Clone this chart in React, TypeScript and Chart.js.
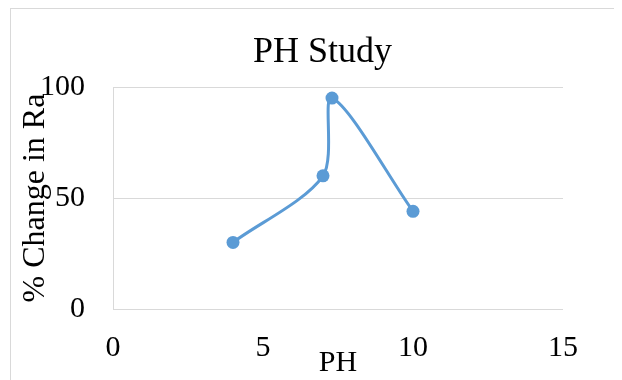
import React, { useEffect, useRef } from "react";
import { Chart, registerables } from "chart.js";

Chart.register(...registerables);

const chartTitle = "PH Study";
const xAxisTitle = "PH";
const yAxisTitle = "% Change in Ra";
const phValues = [4, 7, 7.3, 10];
const changeValues = [30, 60, 95, 44];
const xMin = 0;
const xMax = 15;
const xStep = 5;
const yMin = 0;
const yMax = 100;
const yStep = 50;

const FONT = "'Liberation Serif', 'Times New Roman', serif";

const titlePlugin = {
  id: "customTitle",
  afterDraw(chart: any) {
    const ctx = chart.ctx;
    ctx.save();
    ctx.font = `36px ${FONT}`;
    ctx.fillStyle = "#000000";
    ctx.textAlign = "center";
    ctx.textBaseline = "alphabetic";
    ctx.fillText(chartTitle, 311.5, 52.7);
    ctx.restore();
  },
};

export default function App() {
  const ref = useRef<HTMLCanvasElement | null>(null);

  useEffect(() => {
    if (!ref.current) return;
    const data = phValues.map((x, i) => ({ x, y: changeValues[i] }));
    const chart = new Chart(ref.current, {
      type: "scatter",
      data: {
        datasets: [
          {
            data,
            showLine: true,
            borderColor: "#5b9bd5",
            backgroundColor: "#5b9bd5",
            borderWidth: 3,
            tension: 0.3,
            pointRadius: 6.5,
            pointBorderWidth: 0,
            pointHoverRadius: 6.5,
          },
        ],
      },
      plugins: [titlePlugin],
      options: {
        animation: false,
        responsive: false,
        devicePixelRatio: 1,
        layout: { padding: { top: 78, right: 59, bottom: 0, left: 0 } },
        plugins: {
          legend: { display: false },
          title: { display: false },
          tooltip: { enabled: false },
        },
        scales: {
          x: {
            type: "linear",
            min: xMin,
            max: xMax,
            afterFit: (scale: any) => {
              scale.height = 71;
            },
            ticks: {
              stepSize: xStep,
              padding: 21,
              color: "#000000",
              font: { family: FONT, size: 30 },
              maxRotation: 0,
            },
            grid: { display: false, drawTicks: false },
            border: { display: false },
            title: {
              display: true,
              text: xAxisTitle,
              color: "#000000",
              font: { family: FONT, size: 30, lineHeight: 1.1 },
              padding: { top: 0, bottom: 0 },
            },
          },
          y: {
            type: "linear",
            min: yMin,
            max: yMax,
            afterFit: (scale: any) => {
              scale.width = 102;
            },
            ticks: {
              stepSize: yStep,
              padding: 28,
              color: "#000000",
              font: { family: FONT, size: 30 },
            },
            grid: { color: "#d9d9d9", lineWidth: 1, drawTicks: false },
            border: { display: true, color: "#d9d9d9", width: 1 },
            title: {
              display: true,
              text: yAxisTitle,
              color: "#000000",
              font: { family: FONT, size: 32, lineHeight: 1.2 },
              padding: { top: 5, bottom: 0 },
            },
          },
        },
      },
    });
    return () => chart.destroy();
  }, []);

  return (
    <div
      style={{
        marginLeft: 2,
        width: 611,
        height: 371,
        borderTop: "1px solid #d9d9d9",
        borderLeft: "1px solid #d9d9d9",
        overflow: "hidden",
      }}
    >
      <canvas ref={ref} width={611} height={371} style={{ display: "block" }} />
    </div>
  );
}
